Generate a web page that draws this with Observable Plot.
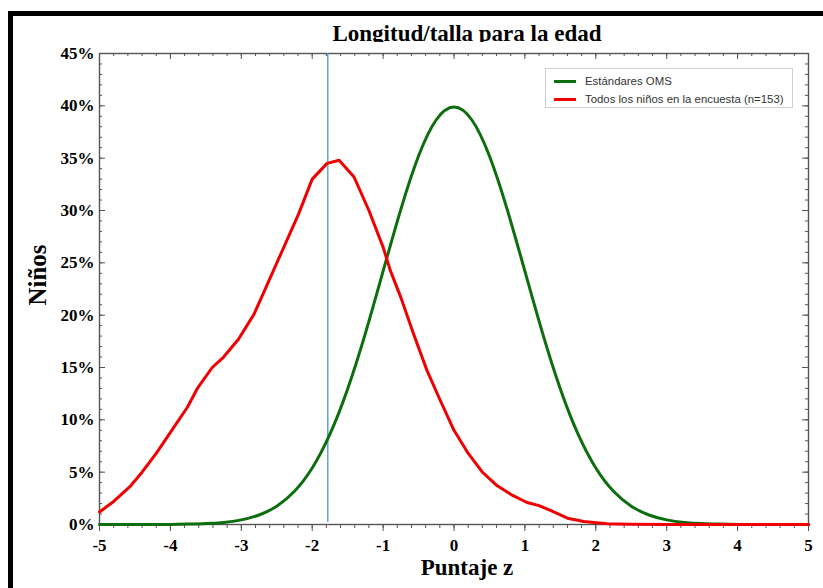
<!DOCTYPE html>
<html>
<head>
<meta charset="utf-8">
<script src="https://cdn.jsdelivr.net/npm/d3@7"></script>
<script src="https://cdn.jsdelivr.net/npm/@observablehq/plot@0.6"></script>
<style>
  html, body { margin: 0; padding: 0; background: #fff; overflow: hidden; }
  #wrap { position: relative; width: 823px; height: 588px; overflow: hidden; background: #fff; }
  #border { position: absolute; left: 8px; top: 11px; width: 900px; height: 700px;
            border-left: 5px solid #000; border-top: 5px solid #000; pointer-events: none; }
  #chart { position: absolute; left: 0; top: 0; }
  #title { position: absolute; left: 300px; width: 334px; text-align: center; top: 22px; height: 20px;
           overflow: hidden; font: bold 23px/23px "Liberation Serif", "Times New Roman", serif; color: #000; white-space: nowrap; }
  #ylab { position: absolute; left: 37px; top: 275px; transform: translate(-50%, -50%) rotate(-90deg);
          font: bold 25px/25px "Liberation Serif", "Times New Roman", serif; color: #000; white-space: nowrap; }
  #legend { position: absolute; left: 545px; top: 68px; width: 248px; height: 40px; box-sizing: border-box;
            border: 1px solid #cfcfcf; background: #fff; font: 11.4px "Liberation Sans", Arial, sans-serif; color: #333; }
  .item { position: absolute; left: 0; height: 14px; white-space: nowrap; }
  .sw { position: absolute; left: 8px; top: 6px; width: 22px; height: 3px; }
  .lab { position: absolute; left: 39px; top: 0; line-height: 14px; }
</style>
</head>
<body>
<div id="wrap">
  <div id="chart"></div>
  <div id="border"></div>
  <div id="title"></div>
  <div id="ylab"></div>
  <div id="legend"></div>
</div>
<script>
// ---- data ----
const titleText = "Longitud/talla para la edad";
const xLabel = "Puntaje z";
const yLabel = "Niños";

const seriesNames = ["Estándares OMS", "Todos los niños en la encuesta (n=153)"];
const seriesColors = ["#0c6e0c", "#f00000"];

// WHO standard curve (percent of children by z-score)
const whoZ = [-5, -4.75, -4.5, -4.25, -4, -3.75, -3.5, -3.25, -3, -2.75, -2.5, -2.25, -2, -1.75, -1.5, -1.25, -1, -0.75, -0.5, -0.25,
              0, 0.25, 0.5, 0.75, 1, 1.25, 1.5, 1.75, 2, 2.25, 2.5, 2.75, 3, 3.25, 3.5, 3.75, 4, 4.25, 4.5, 4.75, 5];
const whoPct = [0, 0, 0, 0.01, 0.01, 0.04, 0.09, 0.2, 0.44, 0.91, 1.75, 3.17, 5.4, 8.63, 12.95, 18.26, 24.2, 30.11, 35.21, 38.67,
                39.89, 38.67, 35.21, 30.11, 24.2, 18.26, 12.95, 8.63, 5.4, 3.17, 1.75, 0.91, 0.44, 0.2, 0.09, 0.04, 0.01, 0.01, 0, 0, 0];

// Survey curve
const surveyZ = [-5, -4.8, -4.56, -4.4, -4.2, -4, -3.76, -3.62, -3.41, -3.25, -3.04, -2.82, -2.63, -2.42, -2.19, -2, -1.79, -1.62,
                 -1.41, -1.2, -1, -0.9, -0.75, -0.57, -0.38, -0.19, 0, 0.19, 0.4, 0.61, 0.82, 1.03, 1.2, 1.36, 1.6, 1.83, 2.16, 2.5, 3, 4, 5];
const surveyPct = [1.2, 2.2, 3.7, 5.0, 6.8, 8.8, 11.2, 13.0, 15.0, 16.0, 17.7, 20.1, 23.0, 26.2, 29.7, 33.0, 34.5, 34.8,
                   33.2, 30.0, 26.5, 24.3, 21.7, 18.2, 14.7, 11.8, 9.0, 6.9, 5.0, 3.7, 2.8, 2.1, 1.8, 1.34, 0.6, 0.29, 0.07, 0.02, 0, 0, 0];

const meanZ = [-1.78];

const xTicks = [-5, -4, -3, -2, -1, 0, 1, 2, 3, 4, 5];
const yTicks = [0, 5, 10, 15, 20, 25, 30, 35, 40, 45];
const xMinorTicks = d3.range(-50, 51, 2).map(d => d / 10);
const yMinorTicks = d3.range(0, 46, 1);

// ---- build tables ----
const who = whoZ.map((z, i) => ({z, pct: whoPct[i]}));
const survey = surveyZ.map((z, i) => ({z, pct: surveyPct[i]}));

const W = 823, H = 588, mL = 99, mR = 15, mT = 53, mB = 64;
const pw = W - mL - mR, ph = H - mT - mB;
const axisColor = "#555";

const chart = Plot.plot({
  width: W,
  height: H,
  marginLeft: mL,
  marginRight: mR,
  marginTop: mT,
  marginBottom: mB,
  style: {fontFamily: "'Liberation Serif', 'Times New Roman', serif", fontSize: "17px", fontWeight: "bold", color: "#000", background: "transparent", overflow: "visible"},
  x: {domain: [-5, 5]},
  y: {domain: [0, 45]},
  marks: [
    // bottom ticks (outward)
    Plot.tickX(xMinorTicks, {x: d => d, insetTop: ph, insetBottom: -4, stroke: axisColor}),
    Plot.tickX(xTicks, {x: d => d, insetTop: ph, insetBottom: -7, stroke: axisColor}),
    // top ticks (inward)
    Plot.tickX(xMinorTicks, {x: d => d, insetBottom: ph - 3, stroke: axisColor}),
    Plot.tickX(xTicks, {x: d => d, insetBottom: ph - 6, stroke: axisColor}),
    // left ticks (inward)
    Plot.tickY(yMinorTicks, {y: d => d, insetRight: pw - 3, stroke: axisColor}),
    Plot.tickY(yTicks, {y: d => d, insetRight: pw - 6, stroke: axisColor}),
    // right ticks (inward)
    Plot.tickY(yMinorTicks, {y: d => d, insetLeft: pw - 3, stroke: axisColor}),
    Plot.tickY(yTicks, {y: d => d, insetLeft: pw - 6, stroke: axisColor}),
    // tick labels
    Plot.axisX({anchor: "bottom", ticks: xTicks, tickSize: 0, tickPadding: 14, tickFormat: d => String(d), label: null, fill: "#000"}),
    Plot.axisY({anchor: "left", ticks: yTicks, tickSize: 0, tickPadding: 5, tickFormat: d => d + "%", label: null, fill: "#000"}),
    Plot.frame({stroke: axisColor, strokeWidth: 1.4}),
    // data
    Plot.ruleX(meanZ, {stroke: "#5b9bd5", strokeWidth: 1.4, insetBottom: 2}),
    Plot.line(who, {x: "z", y: "pct", stroke: seriesColors[0], strokeWidth: 3, curve: "natural"}),
    Plot.line(survey, {x: "z", y: "pct", stroke: seriesColors[1], strokeWidth: 3}),
    // x axis title
    Plot.text([xLabel], {frameAnchor: "bottom", dx: 13, dy: 50, fontSize: 23, fontWeight: "bold", fill: "#000"})
  ]
});
document.getElementById("chart").appendChild(chart);

document.getElementById("title").textContent = titleText;
document.getElementById("ylab").textContent = yLabel;

const legend = document.getElementById("legend");
seriesNames.forEach((name, i) => {
  const item = document.createElement("div");
  item.className = "item";
  item.style.top = (5 + i * 18) + "px";
  const sw = document.createElement("div");
  sw.className = "sw";
  sw.style.background = seriesColors[i];
  const lab = document.createElement("div");
  lab.className = "lab";
  lab.textContent = name;
  item.appendChild(sw);
  item.appendChild(lab);
  legend.appendChild(item);
});
</script>
</body>
</html>
